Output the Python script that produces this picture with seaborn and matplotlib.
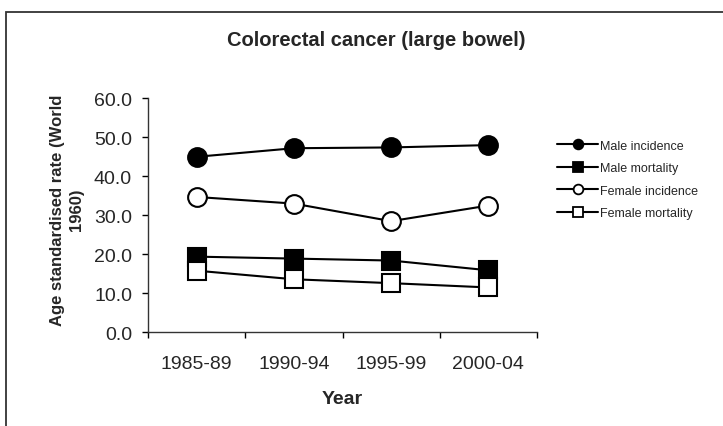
import matplotlib
matplotlib.use("Agg")
import matplotlib.pyplot as plt
from matplotlib.lines import Line2D
from matplotlib.patches import Rectangle
import seaborn as sns
import pandas as pd

periods = ["1985-89", "1990-94", "1995-99", "2000-04"]
male_incidence = [45.0, 47.2, 47.4, 48.0]
male_mortality = [19.4, 18.9, 18.4, 15.9]
female_incidence = [34.7, 33.0, 28.5, 32.5]
female_mortality = [15.8, 13.6, 12.6, 11.5]

series_names = ["Male incidence", "Male mortality", "Female incidence", "Female mortality"]
series_values = [male_incidence, male_mortality, female_incidence, female_mortality]
markers = ["o", "s", "o", "s"]
faces = ["black", "black", "white", "white"]

sns.set_theme(style="white")
plt.rcParams["font.family"] = ["Liberation Sans", "DejaVu Sans"]

fig = plt.figure(figsize=(7.23, 4.27), dpi=100)
ax = fig.add_axes([148 / 723, 1 - 333.3 / 427, 389 / 723, 234 / 427])

for name, vals, m, fc in zip(series_names, series_values, markers, faces):
    df = pd.DataFrame({"pos": list(range(len(periods))), "val": vals})
    sns.lineplot(data=df, x="pos", y="val", ax=ax, color="black", linewidth=1.5,
                 marker=m, markersize=13.5, markerfacecolor=fc, markeredgecolor="black",
                 markeredgewidth=1.5, legend=False)

ax.set_xlim(-0.5, 3.5)
ax.set_ylim(0, 60)
ax.set_yticks([0, 10, 20, 30, 40, 50, 60])
ax.set_yticklabels([f"{v:.1f}" for v in [0, 10, 20, 30, 40, 50, 60]], fontsize=14)
ax.set_xticks([-0.5, 0.5, 1.5, 2.5, 3.5])
ax.set_xticklabels([])
ax.set_xticks(range(len(periods)), minor=True)
ax.set_xticklabels(periods, minor=True, fontsize=14)
ax.tick_params(axis="x", which="minor", length=0, pad=16)
ax.tick_params(axis="x", which="major", length=4, width=1, color="black", direction="out", bottom=True)
ax.tick_params(axis="y", length=4, width=1, color="black", direction="out", left=True, pad=7.5)
for s in ["top", "right"]:
    ax.spines[s].set_visible(False)
for s in ["left", "bottom"]:
    ax.spines[s].set_color("#333333")
    ax.spines[s].set_linewidth(1)

ax.set_xlabel("Year", fontsize=14, fontweight="bold")
ax.xaxis.set_label_coords(0.5, -(400 - 333.3) / 234)
ax.xaxis.label.set_verticalalignment("center")
ax.set_ylabel("Age standardised rate (World\n1960)", fontsize=12, fontweight="bold",
              linespacing=1.35)
ax.yaxis.set_label_coords((67 - 148) / 389, (333.3 - 210) / 234)
ax.yaxis.label.set_verticalalignment("center")

fig.text(376 / 723, 1 - 40 / 427, "Colorectal cancer (large bowel)", fontsize=14.5,
         fontweight="bold", ha="center", va="center")

handles = [Line2D([0], [0], color="black", linewidth=1.5, marker=m, markersize=7,
                  markerfacecolor=fc, markeredgecolor="black", markeredgewidth=1.3)
           for m, fc in zip(markers, faces)]
fig.legend(handles, series_names, loc="upper left", bbox_to_anchor=(552 / 723, 1 - 135.5 / 427),
           frameon=False, fontsize=9, handlelength=3.3, handletextpad=0.15,
           labelspacing=0.85, borderaxespad=0)

fig.patches.append(Rectangle((6.5 / 723, -0.1), 1.2, (1 - 12.5 / 427) + 0.1,
                             transform=fig.transFigure, fill=False,
                             edgecolor="#333333", linewidth=1.3, figure=fig))

fig.savefig("out.png", dpi=100)
